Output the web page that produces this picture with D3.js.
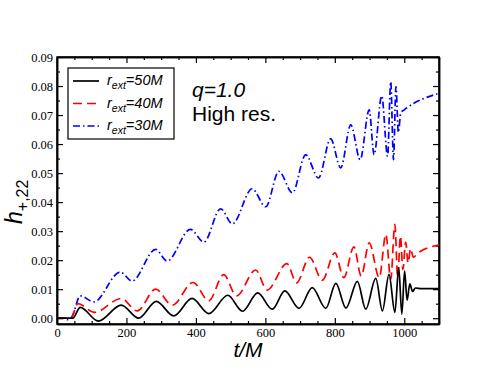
<html lang="en"><head>
<meta http-equiv="Content-Type" content="text/html; charset=UTF-8">
<title>h+22 waveform</title>
<script type="text/javascript" src="https://cdn.jsdelivr.net/npm/d3@7"></script>
<style type="text/css">
body { margin: 0; background: #fff; }
</style>
</head>
<body>

<script type="text/javascript">

var width = 494;
var height = 382;

// r_ext = 50M (black, solid)
var t50 = [0, 45, 67, 119, 185, 235, 286, 336, 389, 437, 492, 534, 578, 620, 656, 697, 735, 774, 803, 832, 865, 889, 918, 937, 956, 973, 984, 993, 1001, 1008, 1016, 1024, 1032, 1050, 1100];
var h50 = [0, 0, 0.0037, -0.001, 0.0045, 0.0000, 0.0058, 0.0008, 0.0068, 0.0016, 0.0079, 0.0024, 0.0087, 0.0031, 0.0094, 0.0034, 0.0105, 0.0034, 0.0120, 0.0035, 0.0127, 0.0031, 0.0137, 0.0025, 0.0151, 0.0020, 0.0174, 0.0014, 0.0163, 0.0062, 0.0118, 0.0092, 0.0104, 0.0102, 0.0102];

// r_ext = 40M (red, dashed)
var t40 = [0, 40, 60, 108, 185, 231, 284, 332, 392, 437, 480, 517, 572, 605, 662, 690, 727, 764, 800, 826, 855, 876, 899, 928, 947, 961, 973, 981, 989, 996, 1004, 1011, 1018, 1026, 1040, 1100];
var h40 = [0, 0, 0.0050, 0.0020, 0.0068, 0.0025, 0.0100, 0.0045, 0.0123, 0.0060, 0.0150, 0.0077, 0.0166, 0.0097, 0.0188, 0.0122, 0.0210, 0.0131, 0.0225, 0.0140, 0.0246, 0.0145, 0.0260, 0.0140, 0.0289, 0.0134, 0.0323, 0.0140, 0.0283, 0.0168, 0.0262, 0.0190, 0.0240, 0.0210, 0.0225, 0.0252];

// r_ext = 30M (blue, dash-dot)
var t30 = [0, 15, 30, 43, 67, 106, 182, 216, 284, 317, 384, 423, 471, 505, 562, 601, 639, 678, 716, 753, 788, 817, 846, 873, 899, 913, 935, 952, 961, 969, 976, 983, 990, 1000, 1100];
var h30 = [0, 0, -0.0005, 0.0005, 0.0077, 0.0056, 0.0159, 0.0128, 0.0237, 0.0197, 0.0306, 0.0262, 0.0377, 0.0325, 0.0446, 0.0384, 0.0506, 0.0432, 0.0563, 0.0483, 0.0618, 0.0518, 0.0666, 0.0546, 0.0718, 0.0563, 0.0766, 0.0558, 0.0815, 0.0546, 0.0798, 0.0640, 0.0708, 0.0718, 0.0775];

var xTicks = [0, 200, 400, 600, 800, 1000];
var yTicks = [0, 0.01, 0.02, 0.03, 0.04, 0.05, 0.06, 0.07, 0.08, 0.09];

var seriesNames = ["50M", "40M", "30M"];
var seriesColors = ["#000000", "#ff0000", "#0000ff"];
var seriesDash = ["none", "9,5", "7,3,1.5,3"];

// plot box (top is a reserved window name, so use pTop etc.)
var pLeft = 57, pRight = 439, pTop = 57, pBottom = 324;

var svg = d3.select("body")
            .append("svg")
            .attr("width", width)
            .attr("height", height);

var x = d3.scaleLinear().domain([0, 1100]).range([pLeft, pRight]);
var y = d3.scaleLinear().domain([-0.002, 0.09]).range([pBottom, pTop]);

var xMinor = d3.range(0, 1101, 50).filter(function(v){ return v % 200 !== 0; });
var yMinor = d3.range(0, 19).map(function(i){ return i * 0.005; }).filter(function(v, i){ return i % 2 === 1; });

function styleAxis(g){
  g.selectAll("path").attr("stroke", "black").attr("stroke-width", 1.5);
  g.selectAll("line").attr("stroke", "black").attr("stroke-width", 1.2);
  g.selectAll("text").attr("font-family", "Liberation Serif, Times New Roman, serif")
                     .attr("font-size", 12.5).attr("fill", "black");
}

// bottom axis, labels
svg.append("g").attr("transform", `translate(0,${pBottom})`)
   .call(d3.axisBottom(x).tickValues(xTicks).tickSizeInner(-6).tickSizeOuter(0).tickPadding(4).tickFormat(d3.format("d")))
   .call(styleAxis);
svg.append("g").attr("transform", `translate(0,${pBottom})`)
   .call(d3.axisBottom(x).tickValues(xMinor).tickSizeInner(-3).tickSizeOuter(0).tickFormat(""))
   .call(styleAxis);
// top axis
svg.append("g").attr("transform", `translate(0,${pTop})`)
   .call(d3.axisTop(x).tickValues(xTicks).tickSizeInner(-6).tickSizeOuter(0).tickFormat(""))
   .call(styleAxis);
svg.append("g").attr("transform", `translate(0,${pTop})`)
   .call(d3.axisTop(x).tickValues(xMinor).tickSizeInner(-3).tickSizeOuter(0).tickFormat(""))
   .call(styleAxis);
// left axis
svg.append("g").attr("transform", `translate(${pLeft},0)`)
   .call(d3.axisLeft(y).tickValues(yTicks).tickSizeInner(-6).tickSizeOuter(0).tickPadding(4).tickFormat(d3.format(".2f")))
   .call(styleAxis);
svg.append("g").attr("transform", `translate(${pLeft},0)`)
   .call(d3.axisLeft(y).tickValues(yMinor).tickSizeInner(-3).tickSizeOuter(0).tickFormat(""))
   .call(styleAxis);
// right axis
svg.append("g").attr("transform", `translate(${pRight},0)`)
   .call(d3.axisRight(y).tickValues(yTicks).tickSizeInner(-6).tickSizeOuter(0).tickFormat(""))
   .call(styleAxis);
svg.append("g").attr("transform", `translate(${pRight},0)`)
   .call(d3.axisRight(y).tickValues(yMinor).tickSizeInner(-3).tickSizeOuter(0).tickFormat(""))
   .call(styleAxis);

// frame
svg.append("rect")
   .attr("x", pLeft).attr("y", pTop)
   .attr("width", pRight - pLeft).attr("height", pBottom - pTop)
   .attr("fill", "none").attr("stroke", "black").attr("stroke-width", 1.5);

// curves
var allSeries = [
  {t: t50, h: h50},
  {t: t40, h: h40},
  {t: t30, h: h30}
];

var line = d3.line()
             .x(function(d){ return x(d[0]); })
             .y(function(d){ return y(d[1]); })
             .curve(d3.curveMonotoneX);

svg.append("defs").append("clipPath").attr("id", "plotclip")
   .append("rect").attr("x", pLeft).attr("y", pTop).attr("width", pRight - pLeft).attr("height", pBottom - pTop);

var curves = svg.append("g").attr("clip-path", "url(#plotclip)");
[2, 1, 0].forEach(function(i){
  var s = allSeries[i];
  var pts = s.t.map(function(t, j){ return [t, s.h[j]]; });
  curves.append("path")
        .datum(pts)
        .attr("d", line)
        .attr("fill", "none")
        .attr("stroke", seriesColors[i])
        .attr("stroke-width", 1.7)
        .attr("stroke-dasharray", seriesDash[i]);
});

// legend
var legend = svg.append("g");
legend.append("rect")
      .attr("x", 68).attr("y", 68).attr("width", 106).attr("height", 71)
      .attr("fill", "white").attr("stroke", "black").attr("stroke-width", 1.2);

seriesNames.forEach(function(name, i){
  var ly = 81 + i * 22.5;
  legend.append("line")
        .attr("x1", 73).attr("x2", 99).attr("y1", ly).attr("y2", ly)
        .attr("stroke", seriesColors[i]).attr("stroke-width", 1.7)
        .attr("stroke-dasharray", seriesDash[i]);
  var txt = legend.append("text")
        .attr("x", 107).attr("y", ly + 4)
        .attr("font-family", "Liberation Sans, Arial, sans-serif")
        .attr("font-style", "italic")
        .attr("font-size", 14.5);
  txt.append("tspan").text("r");
  txt.append("tspan").attr("font-size", 10.5).attr("dy", 4).text("ext");
  txt.append("tspan").attr("dy", -4).text("=" + name);
});

// annotation
svg.append("text")
   .attr("x", 192).attr("y", 97)
   .attr("font-family", "Liberation Sans, Arial, sans-serif")
   .attr("font-style", "italic").attr("font-size", 21)
   .text("q=1.0");
svg.append("text")
   .attr("x", 192).attr("y", 121)
   .attr("font-family", "Liberation Sans, Arial, sans-serif")
   .attr("font-size", 21)
   .text("High res.");

// axis titles
svg.append("text")
   .attr("x", 248).attr("y", 357)
   .attr("text-anchor", "middle")
   .attr("font-family", "Liberation Sans, Arial, sans-serif")
   .attr("font-style", "italic").attr("font-size", 21)
   .text("t/M");

var ylab = svg.append("text")
   .attr("transform", "translate(22,224) rotate(-90)")
   .attr("font-family", "Liberation Sans, Arial, sans-serif")
   .attr("font-size", 23);
ylab.append("tspan").attr("font-style", "italic").text("h");
ylab.append("tspan").attr("font-size", 16).attr("dy", 6).text("+,22");

</script>
</body></html>
